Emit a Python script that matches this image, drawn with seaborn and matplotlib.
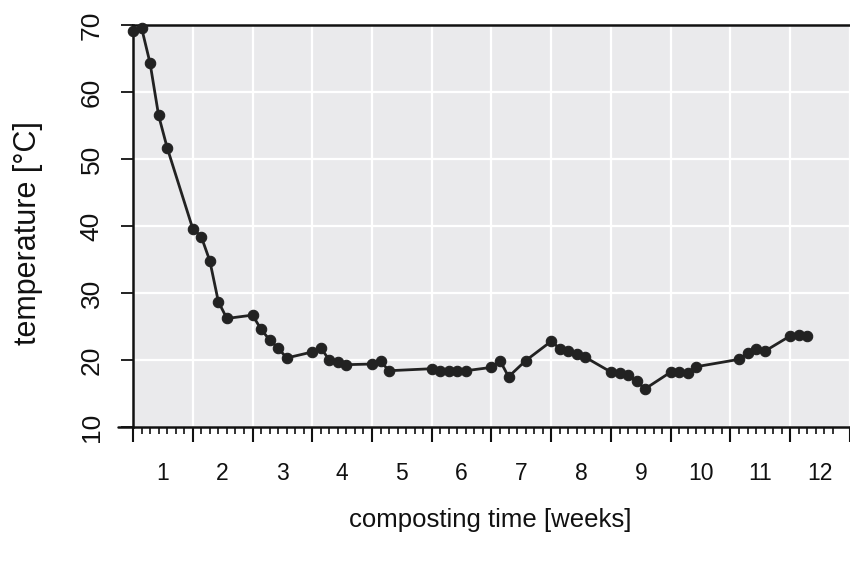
import matplotlib
matplotlib.use("Agg")
import matplotlib.pyplot as plt
from matplotlib.lines import Line2D
import seaborn as sns

sns.set_theme(style="darkgrid")
plt.rcParams['font.family'] = ['Liberation Sans', 'DejaVu Sans']

# composting time in days, temperature in °C
days = [0, 1, 2, 3, 4, 7, 8, 9, 10, 11, 14, 15, 16, 17, 18, 21, 22, 23, 24, 25,
        28, 29, 30, 35, 36, 37, 38, 39, 42, 43, 44, 46, 49, 50, 51, 52, 53,
        56, 57, 58, 59, 60, 63, 64, 65, 66, 71, 72, 73, 74, 77, 78, 79]
temps = [69.1, 69.6, 64.3, 56.5, 51.7, 39.6, 38.4, 34.8, 28.7, 26.2,
         26.7, 24.6, 23.0, 21.8, 20.3, 21.2, 21.8, 20.0, 19.7, 19.3,
         19.4, 19.8, 18.4, 18.7, 18.4, 18.3, 18.3, 18.4, 18.9, 19.9, 17.5,
         19.9, 22.8, 21.7, 21.4, 20.9, 20.4, 18.2, 18.0, 17.8, 16.8, 15.7,
         18.2, 18.2, 18.0, 19.0, 20.1, 21.0, 21.6, 21.3, 23.6, 23.7, 23.6]
week_labels = [str(w) for w in range(1, 13)]
y_ticks = [10, 20, 30, 40, 50, 60, 70]

fig = plt.figure(figsize=(8.5, 5.65), dpi=100)
ax = fig.add_axes([133 / 850, 1 - 427 / 565, 1 - 133 / 850, (427 - 25) / 565])
ax.set_facecolor('#eaeaec')

sns.lineplot(x=days, y=temps, ax=ax, color='#222222', linewidth=2.0,
             marker='o', markersize=7.5, markeredgecolor='#222222',
             markeredgewidth=0.8, clip_on=False, zorder=5)

ax.set_xlim(0, 717 / 8.65)
ax.set_ylim(10, 70)

# week ticks (long), day ticks (short), labels in the middle of each week
ax.set_xticks(range(0, 85, 7))
ax.set_xticks(range(0, 83), minor=True)
ax.set_xticklabels([])
ax.set_yticks(y_ticks)
ax.set_yticklabels([str(v) for v in y_ticks], rotation=90, va='center', fontsize=19)
ax.tick_params(axis='x', which='major', bottom=True, length=11, width=1.5, color='#111111')
ax.tick_params(axis='x', which='minor', bottom=True, length=5, width=1.2, color='#111111')
ax.tick_params(axis='y', which='major', left=True, length=9, width=1.3, color='#111111',
               pad=12, labelcolor='#111111')
ax.grid(True, which='major', color='white', linewidth=1.6)
ax.grid(False, which='minor')

for i, lab in enumerate(week_labels):
    ax.text(7 * i + 3.5, -0.115, lab, transform=ax.get_xaxis_transform(),
            ha='center', va='center', fontsize=16.5, color='#111111')

for side in ['left', 'bottom', 'top']:
    ax.spines[side].set_visible(True)
    ax.spines[side].set_color('#111111')
    ax.spines[side].set_linewidth(1.8)
ax.spines['right'].set_visible(False)

# bottom axis line sticks out a bit past the y axis
fig.add_artist(Line2D([118 / 850, 133 / 850], [1 - 427 / 565] * 2,
                      color='#111111', linewidth=1.8))

fig.text(490 / 850, 1 - 520 / 565, 'composting time [weeks]', ha='center', va='center',
         fontsize=18.5, color='#111111')
fig.text(28 / 850, 1 - 233 / 565, 'temperature [°C]', ha='center', va='center',
         rotation=90, fontsize=22, color='#111111')

fig.savefig('out.png', dpi=100, facecolor='white')
